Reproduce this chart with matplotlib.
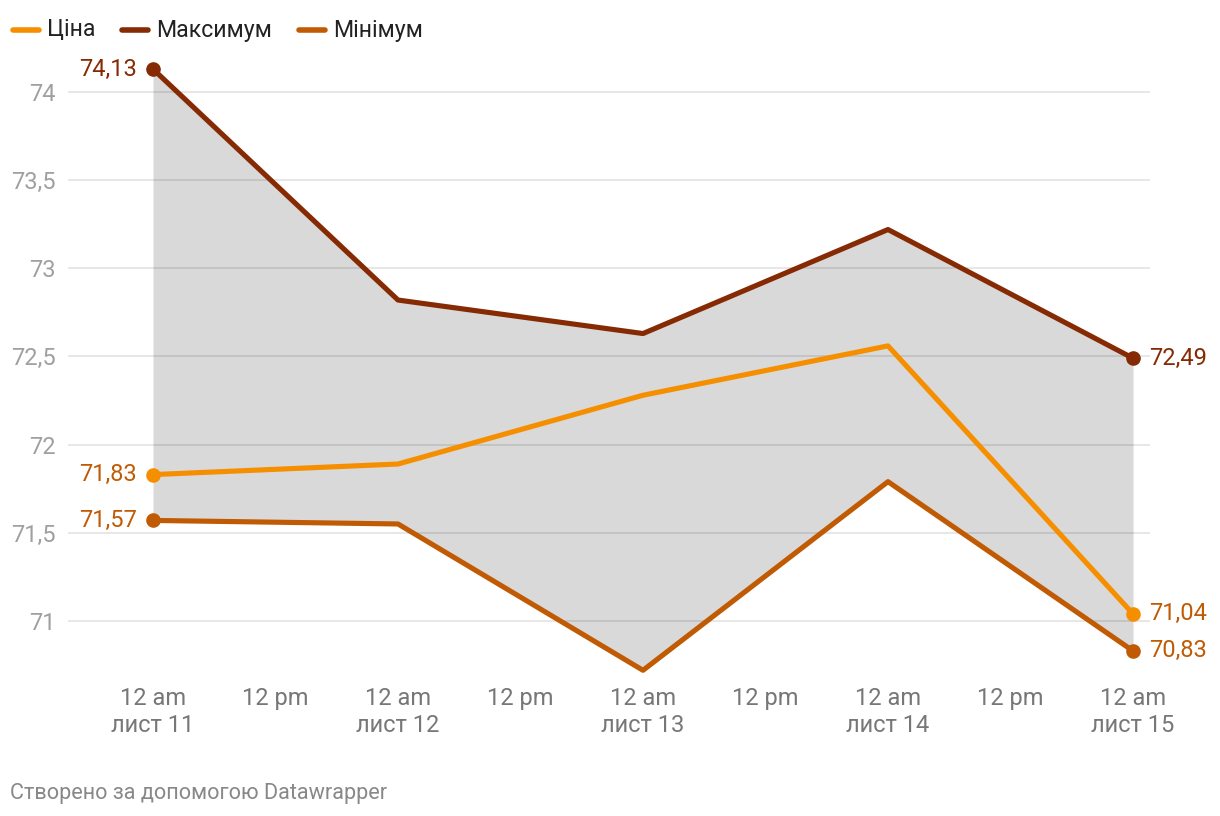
import matplotlib.pyplot as plt
from matplotlib.lines import Line2D

plt.rcParams['font.family'] = ['Roboto', 'DejaVu Sans']

# дані (дні від 11 листопада)
days = [0, 1, 2, 3, 4]
price = [71.83, 71.89, 72.28, 72.56, 71.04]
maximum = [74.13, 72.82, 72.63, 73.22, 72.49]
minimum = [71.57, 71.55, 70.72, 71.79, 70.83]
y_ticks = [71, 71.5, 72, 72.5, 73, 73.5, 74]
x_ticks = [0, 0.5, 1, 1.5, 2, 2.5, 3, 3.5, 4]
x_labels = ["12 am\nлист 11", "12 pm", "12 am\nлист 12", "12 pm", "12 am\nлист 13",
            "12 pm", "12 am\nлист 14", "12 pm", "12 am\nлист 15"]

c_price = '#f68f00'
c_max = '#862a04'
c_min = '#c05b04'
fs = 17

W, H = 1220, 816
fig = plt.figure(figsize=(W / 100, H / 100), dpi=100)
ax = fig.add_axes([68 / W, 1 - 680 / H, (1150 - 68) / W, 620 / H])

ax.fill_between(days, minimum, maximum, color='#d9d9d9', lw=0, zorder=1)
for v in y_ticks:
    ax.axhline(v, color='black', alpha=0.1, lw=1.3, zorder=1.5)

for vals, c in [(maximum, c_max), (minimum, c_min), (price, c_price)]:
    ax.plot(days, vals, color=c, lw=3.7, solid_capstyle='round', zorder=3)
    ax.plot([days[0], days[-1]], [vals[0], vals[-1]], 'o', color=c, ms=9.5, zorder=4)

# підписи значень
ax.text(-0.065, maximum[0], "74,13", color=c_max, fontsize=fs, ha='right', va='center')
ax.text(-0.065, price[0], "71,83", color=c_min, fontsize=fs, ha='right', va='center')
ax.text(-0.065, minimum[0], "71,57", color=c_min, fontsize=fs, ha='right', va='center')
ax.text(4.065, maximum[-1], "72,49", color=c_max, fontsize=fs, ha='left', va='center')
ax.text(4.065, price[-1], "71,04", color=c_min, fontsize=fs, ha='left', va='center')
ax.text(4.065, minimum[-1], "70,83", color=c_min, fontsize=fs, ha='left', va='center')

ax.set_xlim(-85 / 245, 4 + 17 / 245)
ax.set_ylim(70.665, 74.1815)
ax.set_yticks(y_ticks)
ax.set_yticklabels([f"{v:g}".replace('.', ',') for v in y_ticks], fontsize=fs, color='#a0a0a0')
ax.set_xticks(x_ticks)
ax.set_xticklabels(x_labels, fontsize=fs, color='#777777', linespacing=1.25)
ax.tick_params(axis='both', length=0)
ax.tick_params(axis='y', pad=9)
ax.tick_params(axis='x', pad=5)
for s in ax.spines.values():
    s.set_visible(False)

# легенда
legend = [("Ціна", c_price, 13), ("Максимум", c_max, 122), ("Мінімум", c_min, 299)]
for name, c, x0 in legend:
    fig.add_artist(Line2D([x0 / W, (x0 + 26) / W], [1 - 30 / H, 1 - 30 / H], color=c, lw=4,
                          solid_capstyle='round', transform=fig.transFigure))
    fig.text((x0 + 34) / W, 1 - 30 / H, name, fontsize=16.7, color='#222222', va='center')

fig.text(10 / W, 1 - 793 / H, "Створено за допомогою Datawrapper", fontsize=15.6, color='#888888',
         va='center')

fig.savefig('out.png', dpi=100)
